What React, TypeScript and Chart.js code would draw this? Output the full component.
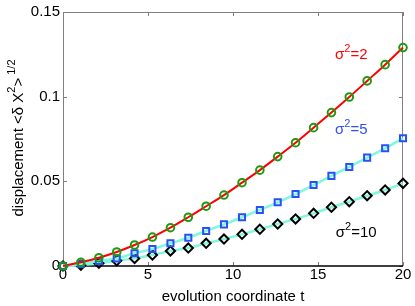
import React, { useEffect, useRef } from "react";
import { Chart, registerables } from "chart.js";

Chart.register(...registerables);

const T = [0, 1.05, 2.11, 3.16, 4.21, 5.26, 6.32, 7.37, 8.42, 9.47, 10.53, 11.58, 12.63, 13.68, 14.74, 15.79, 16.84, 17.89, 18.95, 20];
const S2 = [0, 0.0022, 0.0049, 0.0083, 0.0124, 0.0171, 0.0226, 0.0288, 0.0353, 0.0419, 0.0492, 0.0566, 0.0646, 0.0728, 0.0817, 0.0906, 0.0998, 0.1093, 0.1189, 0.1290];
const S5 = [0, 0.0012, 0.003, 0.0045, 0.0075, 0.0100, 0.0134, 0.0167, 0.0207, 0.0246, 0.0288, 0.0331, 0.0376, 0.0425, 0.0478, 0.0532, 0.0585, 0.0640, 0.0695, 0.0754];
const S10 = [0, 0.0005, 0.0016, 0.0031, 0.0045, 0.0065, 0.0089, 0.0106, 0.0134, 0.0159, 0.0187, 0.0217, 0.0248, 0.0278, 0.0311, 0.0347, 0.0380, 0.0415, 0.0449, 0.0488];
const X_TICKS = [0, 5, 10, 15, 20];
const Y_TICKS = [0, 0.05, 0.1, 0.15];
const LABELS = [
  { base: "\u03c3", sup: "2", rest: "=2", t: 16.0, v: 0.1247, color: "#ff0000" },
  { base: "\u03c3", sup: "2", rest: "=5", t: 16.0, v: 0.0803, color: "#3050f0" },
  { base: "\u03c3", sup: "2", rest: "=10", t: 16.05, v: 0.0197, color: "#000000" },
];

const FONT = "Liberation Sans, Arial, sans-serif";

const pts = (ys: number[]) => ys.map((y, i) => ({ x: T[i], y }));

const decor = {
  id: "decor",
  beforeDatasetsDraw(chart: any) {
    const { ctx, chartArea: a, scales } = chart;
    ctx.save();
    ctx.lineWidth = 1;
    ctx.strokeStyle = "#808080";
    ctx.beginPath();
    ctx.moveTo(a.left + 0.5, a.bottom);
    ctx.lineTo(a.left + 0.5, a.top + 0.5);
    ctx.lineTo(a.right - 0.5, a.top + 0.5);
    ctx.lineTo(a.right - 0.5, a.bottom);
    ctx.stroke();
    const L = 4;
    ctx.beginPath();
    for (const v of X_TICKS) {
      const x = Math.round(scales.x.getPixelForValue(v)) + 0.5;
      ctx.moveTo(x, a.top);
      ctx.lineTo(x, a.top + L);
      ctx.moveTo(x, a.bottom);
      ctx.lineTo(x, a.bottom - L);
    }
    for (const v of Y_TICKS) {
      const y = Math.round(scales.y.getPixelForValue(v)) + 0.5;
      ctx.moveTo(a.left, y);
      ctx.lineTo(a.left + L, y);
      ctx.moveTo(a.right, y);
      ctx.lineTo(a.right - L, y);
    }
    ctx.stroke();
    ctx.strokeStyle = "#000000";
    ctx.lineWidth = 1.5;
    ctx.beginPath();
    ctx.moveTo(a.left, a.bottom);
    ctx.lineTo(a.right, a.bottom);
    ctx.stroke();
    ctx.restore();
  },
  afterDraw(chart: any) {
    const { ctx, chartArea: a, scales } = chart;
    ctx.save();
    ctx.textBaseline = "middle";
    for (const l of LABELS) {
      const x = scales.x.getPixelForValue(l.t);
      const y = scales.y.getPixelForValue(l.v);
      ctx.fillStyle = l.color;
      ctx.font = `15px ${FONT}`;
      ctx.textAlign = "left";
      ctx.fillText(l.base, x, y);
      const w = ctx.measureText(l.base).width;
      ctx.font = `11px ${FONT}`;
      ctx.fillText(l.sup, x + w, y - 6);
      const ws = ctx.measureText(l.sup).width;
      ctx.font = `15px ${FONT}`;
      ctx.fillText(l.rest, x + w + ws, y);
    }
    ctx.fillStyle = "#000";
    ctx.font = `15px ${FONT}`;
    ctx.textAlign = "center";
    ctx.fillText("evolution coordinate t", (a.left + a.right) / 2, 297);
    const parts = [
      { s: "displacement <\u03b4 X", sup: false },
      { s: "2", sup: true },
      { s: ">", sup: false },
      { s: " 1/2", sup: true },
    ];
    let total = 0;
    for (const p of parts) {
      ctx.font = p.sup ? `11px ${FONT}` : `15px ${FONT}`;
      total += ctx.measureText(p.s).width;
    }
    ctx.translate(19, 138);
    ctx.rotate(-Math.PI / 2);
    ctx.textAlign = "left";
    let cx = -total / 2;
    for (const p of parts) {
      ctx.font = p.sup ? `11px ${FONT}` : `15px ${FONT}`;
      ctx.fillText(p.s, cx, p.sup ? -7 : 0);
      cx += ctx.measureText(p.s).width;
    }
    ctx.restore();
  },
};

export default function App() {
  const ref = useRef<HTMLCanvasElement>(null);
  useEffect(() => {
    const chart = new Chart(ref.current as HTMLCanvasElement, {
      type: "scatter",
      data: {
        datasets: [
          {
            data: pts(S2),
            showLine: true,
            borderColor: "#ff0000",
            borderWidth: 2,
            cubicInterpolationMode: "monotone",
            pointStyle: "circle",
            pointRadius: 3.8,
            pointBorderWidth: 2,
            pointBorderColor: "#1f9a10",
            pointBackgroundColor: "rgba(0,0,0,0)",
            clip: false,
          } as any,
          {
            data: pts(S5),
            showLine: true,
            borderColor: "#80f8dc",
            borderWidth: 2.5,
            cubicInterpolationMode: "monotone",
            pointStyle: "rect",
            pointRadius: 4.3,
            pointBorderWidth: 2,
            pointBorderColor: "#2850f5",
            pointBackgroundColor: "rgba(0,0,0,0)",
            clip: false,
          } as any,
          {
            data: pts(S10),
            showLine: true,
            borderColor: "#80f8dc",
            borderWidth: 2.5,
            cubicInterpolationMode: "monotone",
            pointStyle: "rectRot",
            pointRadius: 4.6,
            pointBorderWidth: 2,
            pointBorderColor: "#000000",
            pointBackgroundColor: "rgba(0,0,0,0)",
            clip: false,
          } as any,
        ],
      },
      options: {
        animation: false,
        responsive: false,
        maintainAspectRatio: false,
        layout: { padding: { left: 0, top: 12, right: 12, bottom: 0 } },
        plugins: { legend: { display: false }, tooltip: { enabled: false } },
        scales: {
          x: {
            type: "linear",
            min: 0,
            max: 20,
            afterBuildTicks: (s: any) => {
              s.ticks = X_TICKS.map((v) => ({ value: v }));
            },
            grid: { display: false, drawTicks: false },
            border: { display: false },
            ticks: { color: "#000", font: { family: FONT, size: 15 }, padding: 0, maxRotation: 0 },
            afterFit: (s: any) => {
              s.height = 40;
            },
          },
          y: {
            type: "linear",
            min: 0,
            max: 0.15,
            afterBuildTicks: (s: any) => {
              s.ticks = Y_TICKS.map((v) => ({ value: v }));
            },
            grid: { display: false, drawTicks: false },
            border: { display: false },
            ticks: {
              color: "#000",
              font: { family: FONT, size: 15 },
              padding: 3,
              callback: (v: any) => String(Number(Number(v).toFixed(2))),
            },
            afterFit: (s: any) => {
              s.width = 63;
            },
          },
        },
      },
      plugins: [decor],
    });
    return () => chart.destroy();
  }, []);
  return (
    <div style={{ position: "fixed", left: 0, top: 0, width: 415, height: 306, background: "#fff" }}>
      <canvas ref={ref} width={415} height={306} style={{ width: 415, height: 306 }} />
    </div>
  );
}
